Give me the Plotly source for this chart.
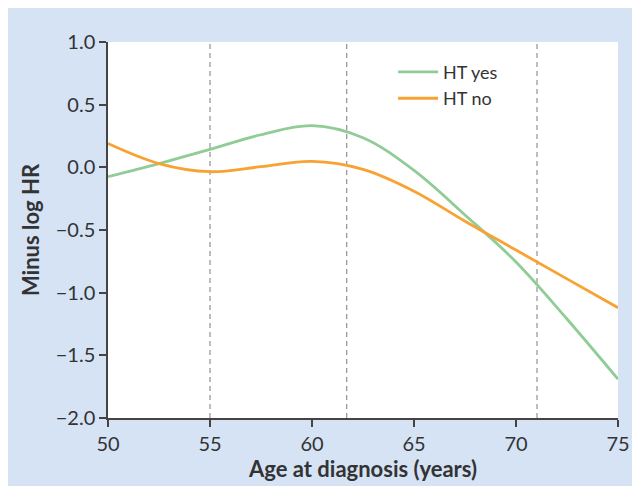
import plotly.graph_objects as go

# values
ages = [50, 52.5, 55, 57.5, 60, 62.5, 65, 67.5, 70, 72.5, 75]
ht_yes = [-0.075, 0.03, 0.143, 0.26, 0.332, 0.236, -0.025, -0.38, -0.755, -1.21, -1.69]
ht_no = [0.19, 0.03, -0.035, 0.005, 0.047, -0.016, -0.19, -0.43, -0.66, -0.89, -1.12]
cut_ages = [55, 61.7, 71.03]

x_ticks = [50, 55, 60, 65, 70, 75]
y_ticks = [1.0, 0.5, 0.0, -0.5, -1.0, -1.5, -2.0]

BLUE = "#d5e3f5"
FONT = "Lato"
TEXT = "#333333"

fig = go.Figure()
fig.add_trace(go.Scatter(x=ages, y=ht_yes, name="HT yes", mode="lines",
                         line=dict(color="#8fcc96", width=2.8, shape="spline", smoothing=1.0),
                         legendgroup="yes"))
fig.add_trace(go.Scatter(x=ages, y=ht_no, name="HT no", mode="lines",
                         line=dict(color="#f7a233", width=2.8, shape="spline", smoothing=1.0),
                         legendgroup="no"))

for a in cut_ages:
    fig.add_shape(type="line", xref="x", yref="paper", x0=a, x1=a, y0=0, y1=1,
                  line=dict(color="#9a9a9a", width=1.3, dash="5px,4px"), layer="below")

fig.update_layout(
    width=640, height=486,
    margin=dict(l=100, r=30, t=34, b=76),
    paper_bgcolor=BLUE, plot_bgcolor="white",
    font=dict(family=FONT, size=20, color=TEXT),
    showlegend=True,
    legend=dict(x=0.559, y=0.969, xanchor="left", yanchor="top",
                bgcolor="rgba(0,0,0,0)", font=dict(size=18, color=TEXT),
                traceorder="grouped", tracegroupgap=0, itemwidth=40),
    xaxis=dict(range=[50, 75], tickvals=x_ticks, showgrid=False, zeroline=False,
               showline=True, linecolor="#444444", linewidth=1.5,
               ticks="outside", ticklen=7, tickcolor="#444444", tickwidth=1.5,
               title=dict(text="<b>Age at diagnosis (years)</b>", standoff=4,
                          font=dict(size=22, color=TEXT))),
    yaxis=dict(range=[-2.0, 1.0], tickvals=y_ticks, tickformat=".1f",
               showgrid=False, zeroline=False,
               showline=True, linecolor="#444444", linewidth=1.5,
               ticks="outside", ticklen=7, tickcolor="#444444", tickwidth=1.5,
               title=dict(text="<b>Minus log HR</b>", standoff=10,
                          font=dict(size=22, color=TEXT))),
)

fig.write_html("out.html")
